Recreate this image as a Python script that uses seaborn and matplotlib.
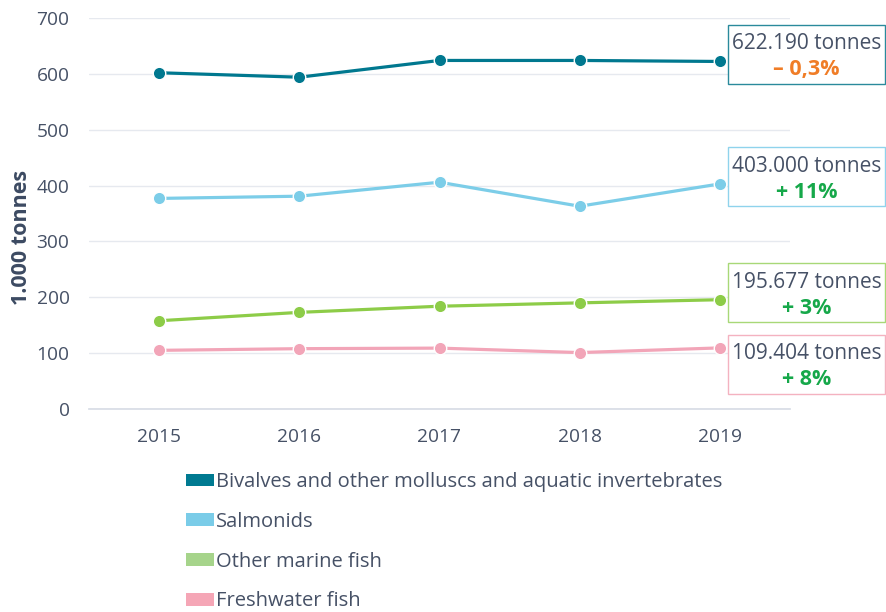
import matplotlib
matplotlib.use("Agg")
import matplotlib.pyplot as plt
from matplotlib.patches import Patch, Rectangle
import seaborn as sns
import pandas as pd

# Aquaculture production by species group, thousand tonnes
years = [2015, 2016, 2017, 2018, 2019]
bivalves = [602, 594, 624, 624, 622.19]
salmonids = [377, 381, 406, 363, 403]
other_marine = [158, 173, 184, 190, 195.677]
freshwater = [105, 108, 109, 101, 109.404]

groups = [
    "Bivalves and other molluscs and aquatic invertebrates",
    "Salmonids",
    "Other marine fish",
    "Freshwater fish",
]
series = [bivalves, salmonids, other_marine, freshwater]

last_labels = ["622.190 tonnes", "403.000 tonnes", "195.677 tonnes", "109.404 tonnes"]
change_labels = ["\u2013 0,3%", "+ 11%", "+ 3%", "+ 8%"]

line_colors = ["#00788f", "#7ccde8", "#8dcc48", "#f2a5b8"]
legend_colors = ["#007a91", "#7acce8", "#a6d48b", "#f5a6b6"]
box_colors = ["#2a8a9c", "#8fd3ec", "#a8d877", "#f4b2c0"]
change_colors = ["#f07d27", "#16a84a", "#16a84a", "#16a84a"]

TEXT = "#465166"

df = pd.DataFrame(
    [(y, g, v) for g, vals in zip(groups, series) for y, v in zip(years, vals)],
    columns=["year", "group", "value"],
)

sns.set_theme(style="white")
plt.rcParams["font.family"] = ["Open Sans", "DejaVu Sans"]

W, H = 886, 612
fig = plt.figure(figsize=(W / 100, H / 100), dpi=100)
ax = fig.add_axes([89 / W, 1 - 409 / H, (790 - 89) / W, (409 - 18) / H])

sns.lineplot(
    data=df, x="year", y="value", hue="group", palette=line_colors,
    marker="o", markersize=9, markeredgecolor="white", markeredgewidth=1,
    linewidth=2.3, ax=ax, legend=False, zorder=3,
)

ax.set_xlim(2014.5, 2019.5)
ax.set_ylim(0, 700)
ax.set_yticks(range(0, 701, 100))
ax.set_xticks(years)
ax.set_xticks([2014.5 + i for i in range(6)], minor=True)
ax.grid(axis="y", color="#e6e9ef", linewidth=1)
ax.set_axisbelow(True)
for s in ["top", "right", "left"]:
    ax.spines[s].set_visible(False)
ax.spines["bottom"].set_color("#d8dde6")
ax.tick_params(axis="x", which="major", length=0, pad=14, labelsize=13.8, labelcolor=TEXT)
ax.tick_params(axis="x", which="minor", length=6, color="#d8dde6", width=1)
ax.tick_params(axis="y", length=0, pad=14, labelsize=13.8, labelcolor=TEXT)
ax.set_xlabel("")
ax.set_ylabel("1.000 tonnes", fontsize=15.5, fontweight="bold", color="#3c4a62",
              labelpad=3, y=0.44)

# value boxes next to the last point of each line
fig.canvas.draw()
box_shift = [0, 0, 0, 23.5]
for vals, lab, chg, bc, cc, sh in zip(series, last_labels, change_labels, box_colors, change_colors, box_shift):
    px, py = ax.transData.transform((years[-1], vals[-1]))
    top = py + 36.5 - sh
    left = px + 8
    w, h = 157, 59
    fig.patches.append(Rectangle((left / W, (top - h) / H), w / W, h / H,
                                 transform=fig.transFigure, facecolor="white",
                                 edgecolor=bc, linewidth=1, zorder=5))
    cx = left + w / 2
    fig.text(cx / W, (top - 19) / H, lab, ha="center", va="center",
             fontsize=15, color=TEXT, zorder=6)
    fig.text(cx / W, (top - 45) / H, chg, ha="center", va="center",
             fontsize=15.5, fontweight="bold", color=cc, zorder=6)

handles = [Patch(facecolor=c, edgecolor="none") for c in legend_colors]
fig.legend(handles, groups, loc="upper left", bbox_to_anchor=(168 / W, 1 - 454 / H),
           frameon=False, fontsize=14.5, handlelength=1.39, handleheight=0.6,
           handletextpad=0.1, labelspacing=0.98, labelcolor=TEXT)

fig.savefig("out.png", dpi=100)
